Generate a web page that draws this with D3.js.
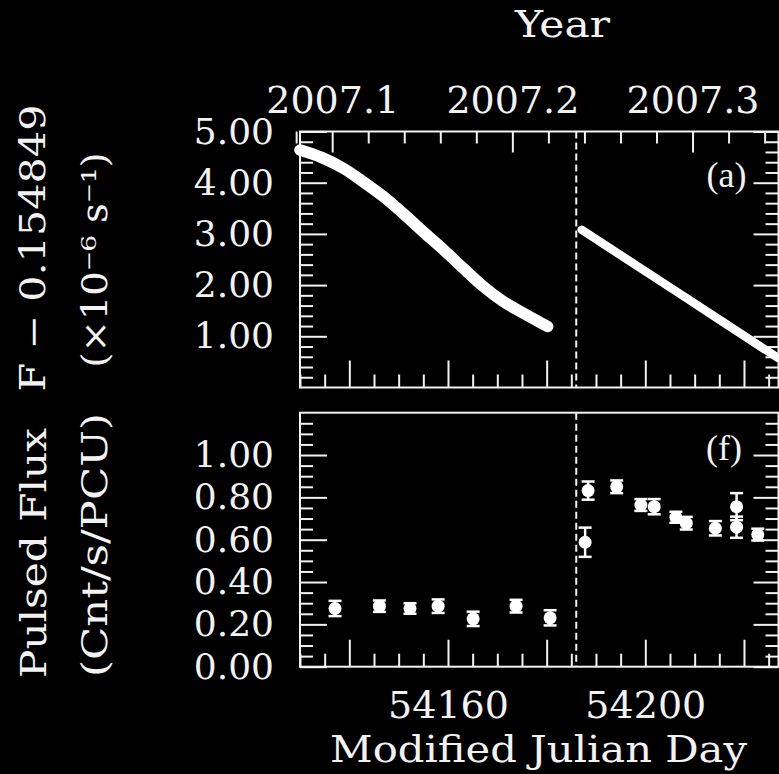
<!DOCTYPE html>
<html>
<head>
<meta charset="utf-8">
<script src="https://cdn.jsdelivr.net/npm/d3@7"></script>
<style>
  html, body { margin: 0; padding: 0; background: #000; }
  svg { display: block; }
</style>
</head>
<body>
<svg id="chart" width="779" height="774"></svg>
<script>
// ---- data ----------------------------------------------------------------
const mjdRange = [54130, 54227];
const mjdMajorTicks = [54140, 54160, 54180, 54200, 54220];
const mjdLabelTicks = [54160, 54200];
const yearTicks = [2007.1, 2007.2, 2007.3];
const yearZeroMJD = 54100;          // MJD taken as year 2007.0
const glitchMJD = 54186;

// spin frequency, F - 0.154849 (units of 1e-6 s^-1), before and after the glitch
const freqPreMJD = [54130, 54131, 54134.7, 54138.8, 54142.8, 54146.9, 54150.9,
                    54155.0, 54159.1, 54163.1, 54167.2, 54171.2, 54175.3, 54180.2];
const freqPreVal = [4.64, 4.61, 4.48, 4.28, 4.02, 3.73, 3.40,
                    3.04, 2.69, 2.33, 1.97, 1.68, 1.45, 1.19];
const freqPostMJD = [54187.1, 54207.0, 54227];
const freqPostVal = [3.08, 1.83, 0.57];

// pulsed flux (Cnt/s/PCU) with 1-sigma errors
const fluxMJD = [54137.1, 54146.1, 54152.3, 54158.0, 54165.1, 54173.8, 54180.7,
                 54187.8, 54188.4, 54194.2, 54199.1, 54201.8, 54206.2, 54208.3,
                 54214.2, 54218.5, 54218.5, 54222.8];
const fluxVal = [0.275, 0.286, 0.275, 0.286, 0.226, 0.286, 0.231,
                 0.588, 0.832, 0.850, 0.764, 0.756, 0.706, 0.678,
                 0.654, 0.756, 0.659, 0.624];
const fluxErr = [0.036, 0.027, 0.025, 0.032, 0.034, 0.030, 0.036,
                 0.069, 0.043, 0.030, 0.028, 0.036, 0.026, 0.030,
                 0.034, 0.064, 0.050, 0.028];

const freqTicks = [1, 2, 3, 4, 5];
const fluxTicks = [0, 0.2, 0.4, 0.6, 0.8, 1.0];

// ---- layout ----------------------------------------------------------------
const svg = d3.select("#chart");
const W = 779, H = 774;
svg.append("rect").attr("width", W).attr("height", H).attr("fill", "#000");

const left = 300, right = 778.5;
const topPanel = { y0: 131.5, y1: 387.5 };
const botPanel = { y0: 412.7, y1: 666.7 };

const font = "'DejaVu Serif', serif";
const ink = "#f2f2f2";

const x = d3.scaleLinear().domain(mjdRange).range([left, right]);
const yearScale = d3.scaleLinear()
  .domain(mjdRange.map(m => 2007 + (m - yearZeroMJD) / 365.25))
  .range([left, right]);
const yTop = d3.scaleLinear().domain([0, 5]).range([topPanel.y1, topPanel.y0]);
const yBot = d3.scaleLinear().domain([0, 1.2]).range([botPanel.y1, botPanel.y0]);

const range = (a, b, s) => d3.range(Math.round((b - a) / s) + 1).map(i => +(a + i * s).toFixed(4));
const mjdMinor = range(54130, 54225, 5).filter(v => !mjdMajorTicks.includes(v));
const yearMinor = range(2007.08, 2007.34, 0.02).filter(v => !yearTicks.some(t => Math.abs(t - v) < 1e-6));
const freqMinor = range(0, 5, 0.2).filter(v => Math.abs(v - Math.round(v)) > 1e-6);
const fluxMinor = range(0, 1.15, 0.05).filter(v => !fluxTicks.some(t => Math.abs(t - v) < 1e-6));

function styleAxis(g) {
  g.select(".domain").remove();
  g.selectAll(".tick line").attr("stroke", ink).attr("stroke-width", 2);
  g.selectAll("text").attr("fill", ink).attr("font-family", font);
}

function ticks(gen, scale, values, size, tx, ty) {
  svg.append("g")
    .attr("transform", `translate(${tx},${ty})`)
    .call(gen(scale).tickValues(values).tickSize(size).tickFormat(""))
    .call(styleAxis);
}

// ---- frames ----------------------------------------------------------------
[topPanel, botPanel].forEach(p => {
  svg.append("rect")
    .attr("x", left).attr("y", p.y0)
    .attr("width", right - left).attr("height", p.y1 - p.y0)
    .attr("fill", "none").attr("stroke", ink).attr("stroke-width", 2);
});

// ---- top panel axes ----------------------------------------------------------
ticks(d3.axisBottom, yearScale, yearTicks, 21, 0, topPanel.y0);
ticks(d3.axisBottom, yearScale, yearMinor, 12, 0, topPanel.y0);
ticks(d3.axisTop, x, mjdMajorTicks, 27, 0, topPanel.y1);
ticks(d3.axisTop, x, mjdMinor, 13, 0, topPanel.y1);
ticks(d3.axisRight, yTop, freqTicks, 27, left, 0);
ticks(d3.axisRight, yTop, freqMinor, 13, left, 0);
ticks(d3.axisLeft, yTop, freqTicks, 25, right, 0);
ticks(d3.axisLeft, yTop, freqMinor, 13, right, 0);

svg.append("g")
  .attr("transform", `translate(0,${topPanel.y0})`)
  .call(d3.axisTop(yearScale).tickValues(yearTicks).tickSize(0).tickPadding(19)
    .tickFormat(d3.format(".1f")))
  .call(styleAxis)
  .selectAll("text").attr("font-size", 38);

svg.append("g")
  .attr("transform", `translate(${left},0)`)
  .call(d3.axisLeft(yTop).tickValues(freqTicks).tickSize(0).tickPadding(26)
    .tickFormat(d3.format(".2f")))
  .call(styleAxis)
  .selectAll("text").attr("font-size", 36);

// ---- bottom panel axes -------------------------------------------------------
ticks(d3.axisTop, x, mjdMajorTicks, 27, 0, botPanel.y1);
ticks(d3.axisTop, x, mjdMinor, 13, 0, botPanel.y1);
ticks(d3.axisRight, yBot, fluxTicks, 27, left, 0);
ticks(d3.axisRight, yBot, fluxMinor, 13, left, 0);
ticks(d3.axisLeft, yBot, fluxTicks, 25, right, 0);
ticks(d3.axisLeft, yBot, fluxMinor, 13, right, 0);

svg.append("g")
  .attr("transform", `translate(0,${botPanel.y1})`)
  .call(d3.axisBottom(x).tickValues(mjdLabelTicks).tickSize(0).tickPadding(24)
    .tickFormat(d3.format("d")))
  .call(styleAxis)
  .selectAll("text").attr("font-size", 38);

svg.append("g")
  .attr("transform", `translate(${left},0)`)
  .call(d3.axisLeft(yBot).tickValues(fluxTicks).tickSize(0).tickPadding(26)
    .tickFormat(d3.format(".2f")))
  .call(styleAxis)
  .selectAll("text").attr("font-size", 36);

// ---- glitch epoch marker -----------------------------------------------------
[topPanel, botPanel].forEach(p => {
  svg.append("line")
    .attr("x1", x(glitchMJD)).attr("x2", x(glitchMJD))
    .attr("y1", p.y0).attr("y2", p.y1)
    .attr("stroke", ink).attr("stroke-width", 2)
    .attr("stroke-dasharray", "7,4");
});

// ---- frequency curves ------------------------------------------------------
const freqLine = d3.line()
  .x(d => x(d[0])).y(d => yTop(d[1]))
  .curve(d3.curveCatmullRom.alpha(0.5));

svg.append("path")
  .datum(d3.zip(freqPreMJD, freqPreVal))
  .attr("d", freqLine)
  .attr("fill", "none").attr("stroke", "#fff")
  .attr("stroke-width", 11.5).attr("stroke-linecap", "round");

svg.append("path")
  .datum(d3.zip(freqPostMJD, freqPostVal))
  .attr("d", freqLine)
  .attr("fill", "none").attr("stroke", "#fff")
  .attr("stroke-width", 8.5).attr("stroke-linecap", "round");

// ---- pulsed flux points ----------------------------------------------------
const flux = d3.zip(fluxMJD, fluxVal, fluxErr);
const pts = svg.append("g");
const capHalf = 6.5;
flux.forEach(([m, v, e]) => {
  const cx = x(m);
  pts.append("line")
    .attr("x1", cx).attr("x2", cx).attr("y1", yBot(v - e)).attr("y2", yBot(v + e))
    .attr("stroke", "#fff").attr("stroke-width", 2.5);
  [v - e, v + e].forEach(b => {
    pts.append("line")
      .attr("x1", cx - capHalf).attr("x2", cx + capHalf)
      .attr("y1", yBot(b)).attr("y2", yBot(b))
      .attr("stroke", "#fff").attr("stroke-width", 2.5);
  });
  pts.append("circle").attr("cx", cx).attr("cy", yBot(v)).attr("r", 6.5).attr("fill", "#fff");
});

// ---- panel tags -------------------------------------------------------------
svg.append("text").attr("x", 726.5).attr("y", 187).attr("text-anchor", "middle")
  .attr("font-family", "'Liberation Serif', serif").attr("font-size", 36)
  .attr("fill", ink).text("(a)");
svg.append("text").attr("x", 724).attr("y", 460).attr("text-anchor", "middle")
  .attr("font-family", "'Liberation Serif', serif").attr("font-size", 36)
  .attr("fill", ink).text("(f)");

// ---- axis titles ------------------------------------------------------------
function title(txt, tx, ty, rot, size, len) {
  svg.append("text")
    .attr("transform", `translate(${tx},${ty}) rotate(${rot})`)
    .attr("text-anchor", "middle")
    .attr("font-family", font).attr("font-size", size)
    .attr("fill", ink)
    .attr("textLength", len).attr("lengthAdjust", "spacingAndGlyphs")
    .text(txt);
}
title("Year", 562.5, 37, 0, 37, 95);
title("Modified Julian Day", 538.5, 762, 0, 37, 417);
title("F \u2212 0.154849", 45, 248, -90, 35, 287);
title("(\u00d710\u207b\u2076 s\u207b\u00b9)", 107, 260, -90, 35, 215);
title("Pulsed Flux", 46, 553, -90, 35, 250);
title("(Cnt/s/PCU)", 107, 545, -90, 35, 264);
</script>
</body>
</html>
